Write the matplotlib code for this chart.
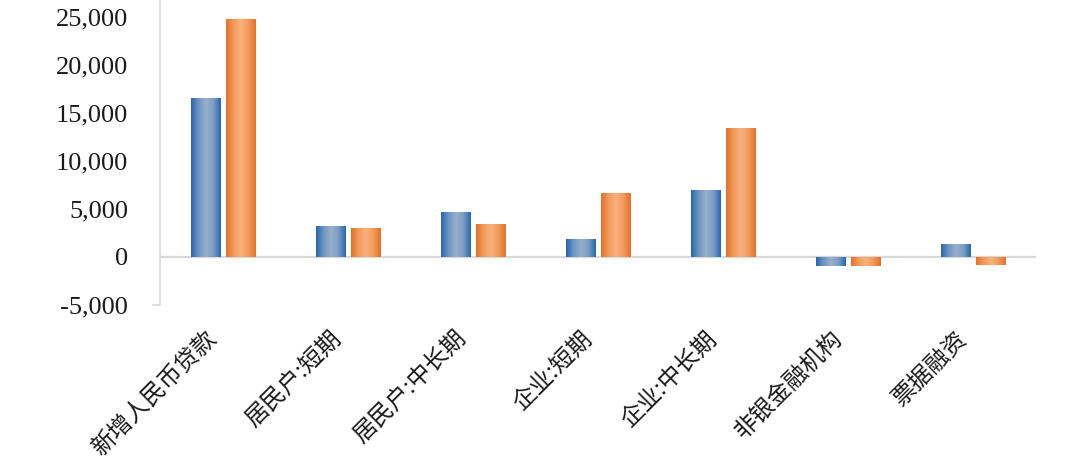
import numpy as np
import matplotlib
matplotlib.use("Agg")
import matplotlib.pyplot as plt
from matplotlib.colors import LinearSegmentedColormap
from matplotlib.ticker import FuncFormatter
from matplotlib.transforms import ScaledTranslation

categories = ["新增人民币贷款", "居民户:短期", "居民户:中长期", "企业:短期", "企业:中长期", "非银金融机构", "票据融资"]
series_a = [16560, 3170, 4640, 1880, 6900, -950, 1290]
series_b = [24760, 3000, 3450, 6590, 13460, -950, -850]
yticks = [-5000, 0, 5000, 10000, 15000, 20000, 25000]

fig = plt.figure(figsize=(10.8, 4.58), dpi=100)
ax = fig.add_axes([160/1080, 1 - 304.5/458, 876/1080, 304.5/458])

x = np.arange(len(categories))
w = 0.232
off = 0.14
bars_a = ax.bar(x - off, series_a, w, color="none", edgecolor="none")
bars_b = ax.bar(x + off, series_b, w, color="none", edgecolor="none")

cmap_a = LinearSegmentedColormap.from_list("a", ["#2566B0", "#6E94C2", "#98B0CB", "#7C9DC5", "#2566B0"])
cmap_b = LinearSegmentedColormap.from_list("b", ["#E2702A", "#F39A5A", "#F9B27C", "#F39A5A", "#E2702A"])
grad = np.linspace(0, 1, 256).reshape(1, -1)
for bars, cm in ((bars_a, cmap_a), (bars_b, cmap_b)):
    for b in bars:
        x0, y0 = b.get_x(), b.get_y()
        bw, bh = b.get_width(), b.get_height()
        y1 = y0 + bh
        im = ax.imshow(grad, cmap=cm, aspect="auto", extent=(x0, x0 + bw, min(y0, y1), max(y0, y1)),
                       interpolation="bicubic", zorder=2)
        im.set_clip_path(b)

ax.set_xlim(-0.5, len(categories) - 0.5)
ax.set_ylim(-5000, 26780)
ax.axhline(0, color="#D9D9D9", lw=1.6, zorder=1)
for s in ["top", "right", "bottom"]:
    ax.spines[s].set_visible(False)
ax.spines["left"].set_color("#D9D9D9")
ax.spines["left"].set_linewidth(1.2)
ax.plot([-0.008, 0], [0, 0], transform=ax.transAxes, color="#D9D9D9", lw=1.2, clip_on=False)

ax.set_yticks(yticks)
ax.yaxis.set_major_formatter(FuncFormatter(lambda v, p: f"{int(v):,}"))
ax.tick_params(axis="y", length=0, pad=23, labelsize=19, labelcolor="#1a1a1a")
for lab in ax.get_yticklabels():
    lab.set_fontfamily("Liberation Serif")

ax.set_xticks(x)
ax.set_xticklabels(categories, rotation=45, ha="right", va="top", rotation_mode="anchor",
                   fontsize=17, family=["Noto Sans CJK SC", "DejaVu Sans"], color="#1a1a1a")
ax.tick_params(axis="x", length=0, pad=22)
shift = ScaledTranslation(-0.18, 0.08, fig.dpi_scale_trans)
for lab in ax.get_xticklabels():
    lab.set_transform(lab.get_transform() + shift)

fig.savefig("out.png", dpi=100, facecolor="white")
